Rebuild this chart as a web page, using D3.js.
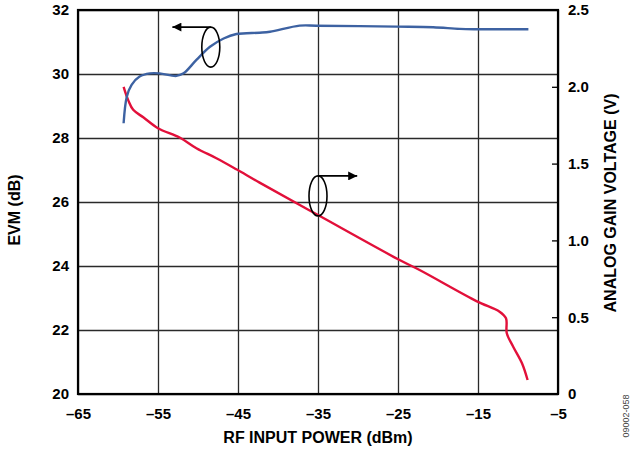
<!DOCTYPE html>
<html lang="en">
<head>
<meta charset="UTF-8">
<script src="https://d3js.org/d3.v7.min.js"></script>
<title>EVM and analog gain voltage vs RF input power</title>
<style>
  body { margin: 0; background: #fff; }
  svg { font-family: "Liberation Sans", Arial, sans-serif; }
  .grid line { stroke: #2a2a2a; stroke-width: 1.3; }
  .grid path { display: none; }
  .tick text { font-size: 15px; font-weight: bold; fill: #000; }
  .axTitle { font-size: 16px; font-weight: bold; fill: #000; }
</style>
</head>
<body>
<script>
// values
var xTicks = [-65, -55, -45, -35, -25, -15, -5]
var evmTicks = [20, 22, 24, 26, 28, 30, 32]
var voltTicks = [0, 0.5, 1.0, 1.5, 2.0, 2.5]

// EVM (left axis)
var powerEvm = [-59.3, -58.9, -58.3, -57.3, -56.0, -54.8, -52.7, -51.8, -50.2, -48.5, -46.8, -45.2, -42.3, -41.0, -37.3, -35.2, -25.2, -20.6, -17.3, -15.2, -8.7]
var evm = [28.46, 29.29, 29.66, 29.92, 30.02, 30.02, 29.94, 30.02, 30.44, 30.85, 31.11, 31.25, 31.29, 31.32, 31.51, 31.51, 31.48, 31.46, 31.41, 31.40, 31.40]

// analog gain voltage (right axis)
var powerVgain = [-59.3, -58.7, -58.1, -56.8, -55.0, -52.3, -50.2, -47.7, -45.2, -42.3, -35.0, -24.8, -22.3, -15.2, -12.3, -11.5, -11.4, -10.6, -9.5, -8.8]
var vgain = [2.00, 1.91, 1.85, 1.80, 1.73, 1.67, 1.60, 1.535, 1.463, 1.376, 1.165, 0.872, 0.807, 0.605, 0.536, 0.493, 0.395, 0.308, 0.200, 0.091]

var width = 630, height = 449
var pad = { top: 10, right: 72, bottom: 55, left: 78 }
var w = width - pad.left - pad.right
var h = height - pad.top - pad.bottom

var svg = d3.select("body").append("svg")
    .attr("width", width)
    .attr("height", height)

var g = svg.append("g").attr("transform", "translate(" + pad.left + "," + pad.top + ")")

var x = d3.scaleLinear().domain([-65, -5]).range([0, w])
var yL = d3.scaleLinear().domain([20, 32]).range([h, 0])
var yR = d3.scaleLinear().domain([0, 2.5]).range([h, 0])

var minus = function (d) { return d < 0 ? "\u2013" + Math.abs(d) : d }

// vertical grid + x labels
g.append("g").attr("class", "grid")
    .attr("transform", "translate(0," + h + ")")
    .call(d3.axisBottom(x).tickValues(xTicks).tickFormat(minus).tickSize(-h).tickPadding(14))
// horizontal grid + left labels
g.append("g").attr("class", "grid")
    .call(d3.axisLeft(yL).tickValues(evmTicks).tickSize(-w).tickPadding(9))
// right axis small ticks
var ra = g.append("g")
    .attr("transform", "translate(" + w + ",0)")
    .call(d3.axisRight(yR).tickValues(voltTicks)
        .tickFormat(function (d) { return d === 0 ? "0" : d3.format(".1f")(d) })
        .tickSizeInner(-6).tickSizeOuter(0).tickPadding(10))
ra.select(".domain").remove()
ra.selectAll("line").attr("stroke", "#000").attr("stroke-width", 1.3)
ra.selectAll(".tick").filter(function (d) { return d === 0 || d === 2.5 }).select("line").remove()

// frame
g.append("rect").attr("width", w).attr("height", h)
    .attr("fill", "none").attr("stroke", "#000").attr("stroke-width", 2.2)

// curves
var evmLine = d3.line()
    .x(function (d, i) { return x(powerEvm[i]) })
    .y(function (d) { return yL(d) })
    .curve(d3.curveCatmullRom.alpha(0.5))
var vLine = d3.line()
    .x(function (d, i) { return x(powerVgain[i]) })
    .y(function (d) { return yR(d) })
    .curve(d3.curveCatmullRom.alpha(0.5))

g.append("path").datum(vgain).attr("d", vLine)
    .attr("fill", "none").attr("stroke", "#e2103a").attr("stroke-width", 2.4)
g.append("path").datum(evm).attr("d", evmLine)
    .attr("fill", "none").attr("stroke", "#3d62a2").attr("stroke-width", 2.4)

// ellipse markers with arrows
svg.append("defs").append("marker")
    .attr("id", "ah").attr("viewBox", "0 0 10 10")
    .attr("refX", 10).attr("refY", 5)
    .attr("markerWidth", 17).attr("markerHeight", 9)
    .attr("markerUnits", "userSpaceOnUse")
    .attr("orient", "auto")
    .append("path").attr("d", "M0,0L10,5L0,10z").attr("fill", "#000")

function marker(cx, cy, toX) {
    g.append("ellipse").attr("cx", x(cx)).attr("cy", yL(cy))
        .attr("rx", 9).attr("ry", 20)
        .attr("fill", "none").attr("stroke", "#000").attr("stroke-width", 1.6)
    g.append("line")
        .attr("x1", x(cx)).attr("y1", yL(cy) - 20)
        .attr("x2", x(toX)).attr("y2", yL(cy) - 20)
        .attr("stroke", "#000").attr("stroke-width", 1.6)
        .attr("marker-end", "url(#ah)")
}
marker(-48.4, 30.84, -53.2)
marker(-35.0, 26.19, -30.1)

// axis titles
svg.append("text").attr("class", "axTitle")
    .attr("x", pad.left + w / 2).attr("y", 443)
    .attr("text-anchor", "middle").text("RF INPUT POWER (dBm)")
svg.append("text").attr("class", "axTitle")
    .attr("transform", "translate(19.5,210) rotate(-90)")
    .attr("text-anchor", "middle").text("EVM (dB)")
svg.append("text").attr("class", "axTitle")
    .attr("transform", "translate(616,203) rotate(-90)")
    .attr("text-anchor", "middle").text("ANALOG GAIN VOLTAGE (V)")
svg.append("text")
    .attr("transform", "translate(629,416) rotate(-90)")
    .attr("text-anchor", "middle")
    .attr("font-size", 9).attr("fill", "#444")
    .text("09002-058")
</script>
</body>
</html>
